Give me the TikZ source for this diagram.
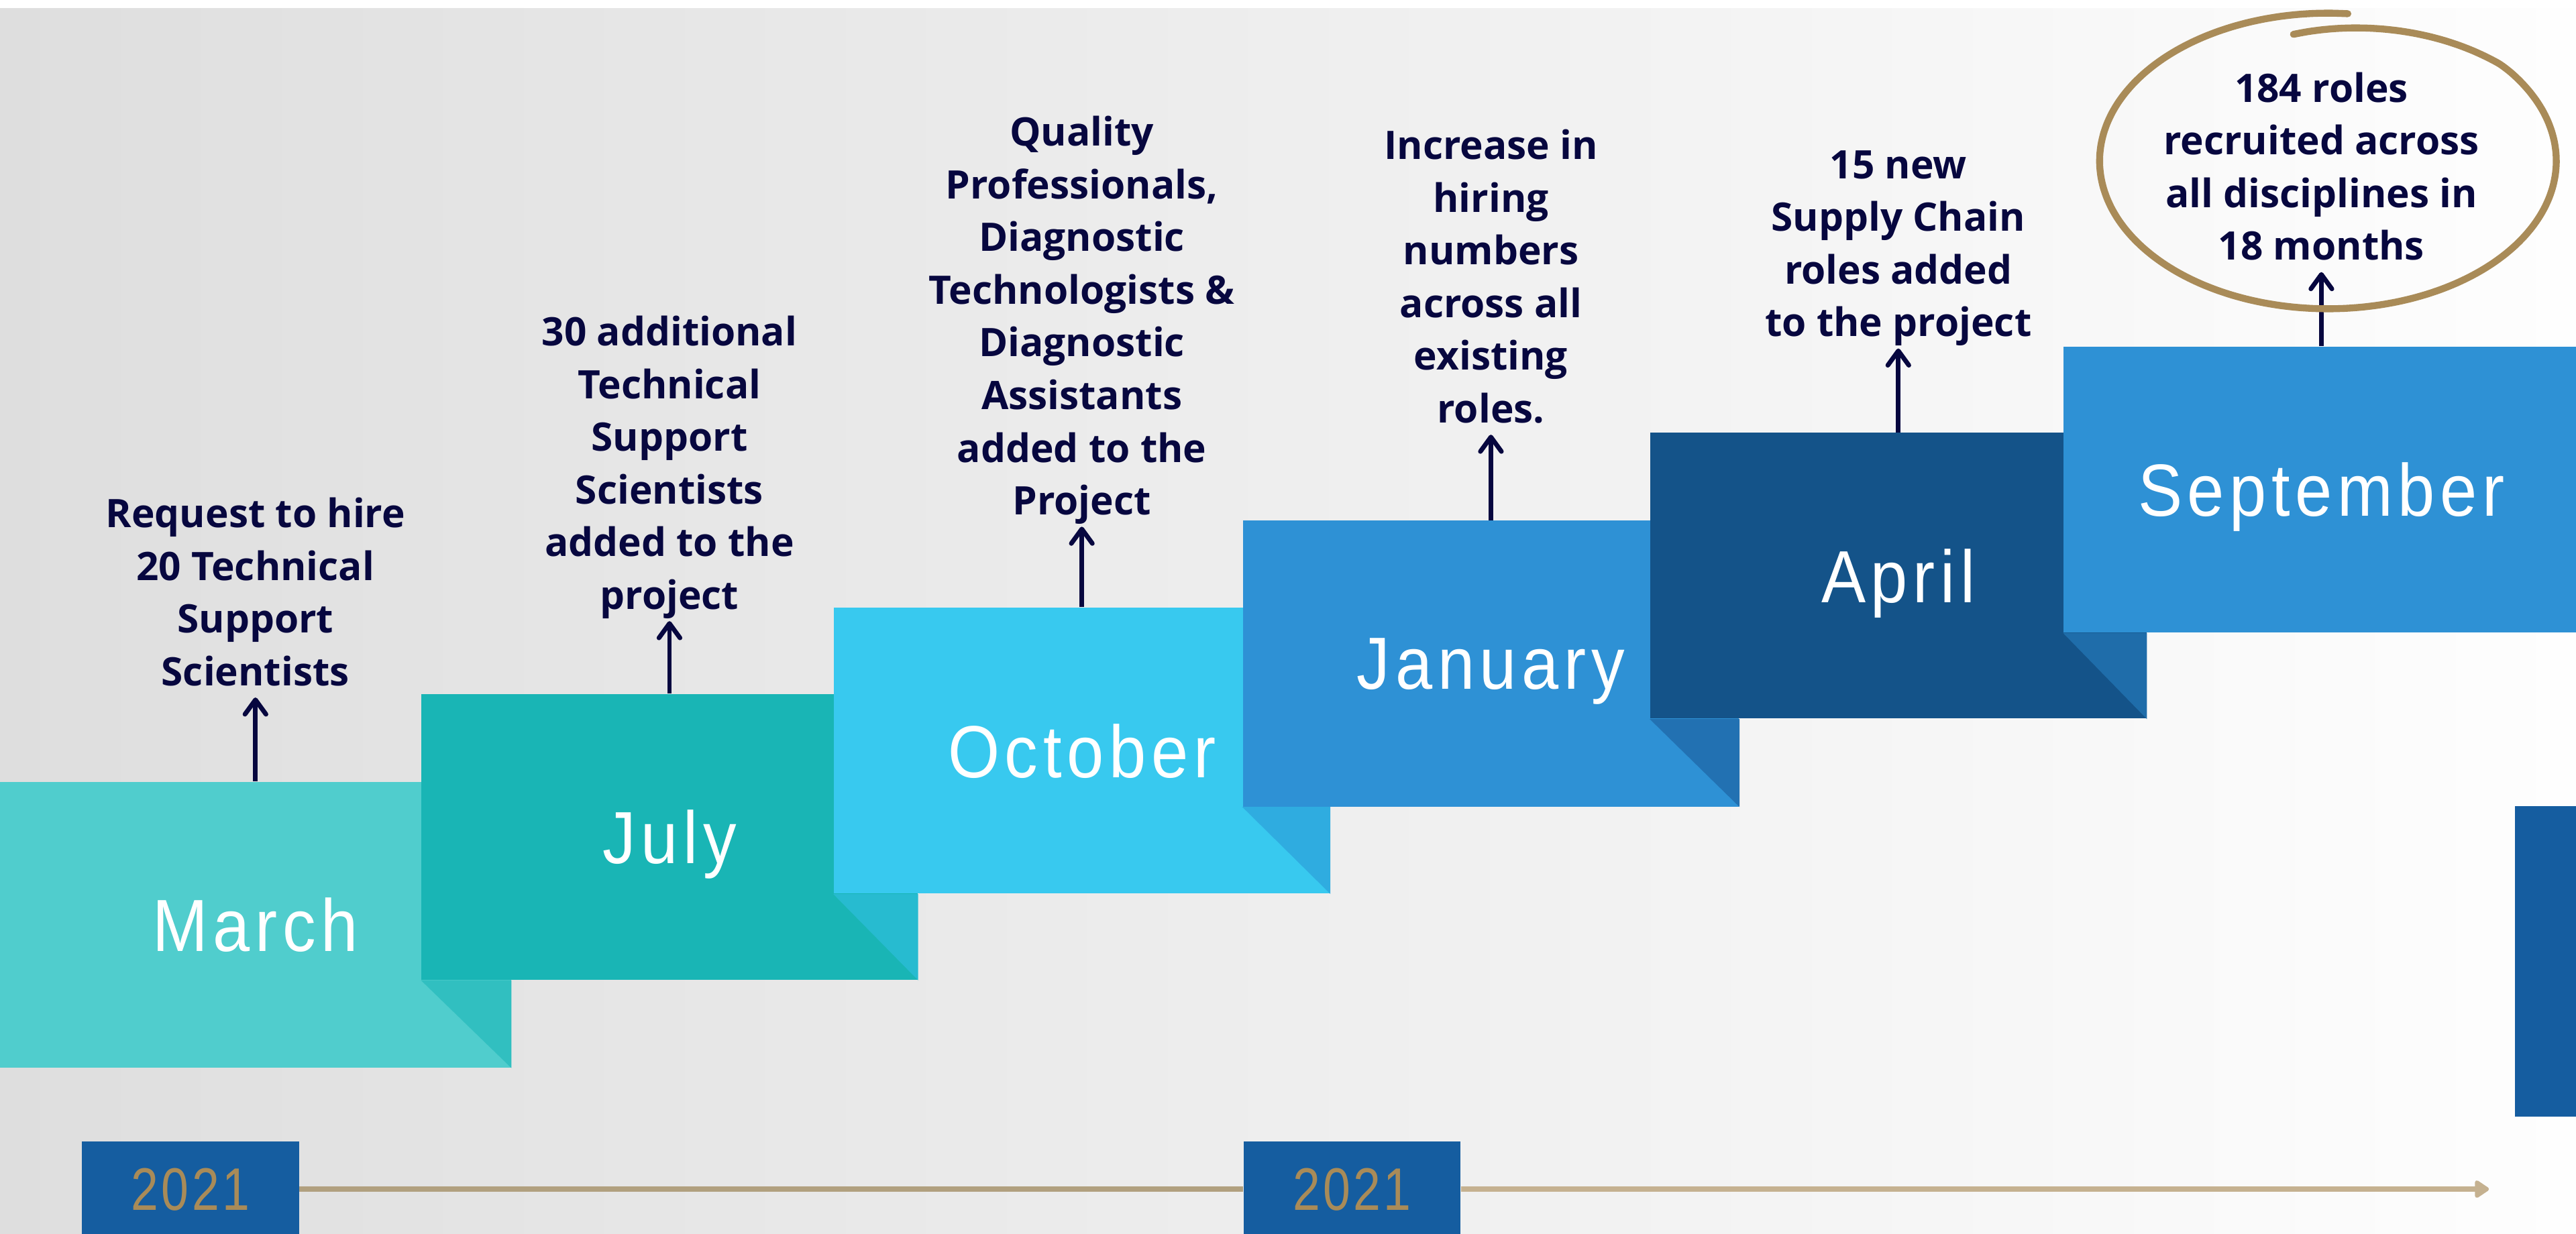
\documentclass[tikz,border=0pt]{standalone}
\usepackage{fontspec}
\usetikzlibrary{positioning,arrows.meta}
\newfontfamily\notefont{Open Sans}
\newfontfamily\monthfont{Liberation Sans}[FakeStretch=0.9,LetterSpace=7]
\newfontfamily\yearfont{Liberation Sans}[FakeStretch=0.82,LetterSpace=5]
\definecolor{navy}{HTML}{07073F}
\definecolor{marchc}{HTML}{50CDCD}
\definecolor{marchf}{HTML}{31BFC0}
\definecolor{julyc}{HTML}{19B5B5}
\definecolor{julyf}{HTML}{27BBD0}
\definecolor{octc}{HTML}{38C9EF}
\definecolor{octf}{HTML}{2FACE0}
\definecolor{janc}{HTML}{2E91D5}
\definecolor{janf}{HTML}{2271B2}
\definecolor{aprc}{HTML}{145389}
\definecolor{aprf}{HTML}{1F6DAA}
\definecolor{sepc}{HTML}{2E91D5}
\definecolor{yearblue}{HTML}{155DA0}
\definecolor{gold}{HTML}{A98B58}
\definecolor{linel}{HTML}{B1A07F}
\definecolor{liner}{HTML}{C5B190}
\definecolor{bgl}{HTML}{DEDEDE}
\definecolor{bgr}{HTML}{FEFEFE}

\begin{document}
\begin{tikzpicture}[x=0.025cm, y=-0.025cm,
  month/.style={fill=#1, text=white, inner sep=0pt, minimum width=7.55cm,
                minimum height=4.35cm, text depth=0pt,
                font=\monthfont\fontsize{32}{38}\selectfont},
  note/.style={inner sep=0pt, align=center, text depth=0pt, text=navy,
               font=\notefont\bfseries\fontsize{17}{22.8}\selectfont},
  uparrow/.style={draw=navy, line width=2pt, shorten >=1.75mm,
                  -{Straight Barb[round, length=2.2mm, width=3.2mm]}},
  yearbox/.style={fill=yearblue, text=gold, inner sep=0pt, minimum width=3.3cm,
                  minimum height=1.45cm, text depth=0pt,
                  font=\yearfont\fontsize{26}{30}\selectfont},
  timeline/.style={line width=2.2pt},
  declare function={rr(\t)=1-0.13*max(0,(\t-40)/60);}]

\useasboundingbox (0,0) rectangle (1568,751);
\fill[white] (0,0) rectangle (1568,751);
\shade[left color=bgl, right color=bgr] (0,5) rectangle (1568,751);
\fill[yearblue] (1531,491) rectangle (1570,680);

% the steps
\node[month=marchc, minimum width=7.775cm] (mar) at (155.5,563) {March};
\node[month=julyc] (jul) at (407.5,509.5) {July};
\node[month=octc] (oct) at (658.5,457) {October};
\node[month=janc] (jan) at (907.5,404) {January};
\node[month=aprc] (apr) at (1155.5,350.5) {April};
\node[month=sepc, minimum width=7.85cm] (sep) at (1413,298) {September};

\fill[marchf] (jul.south west) -- (mar.east |- jul.south) -- (mar.south east) -- cycle;
\fill[julyf] (oct.south west) -- (jul.east |- oct.south) -- (jul.south east) -- cycle;
\fill[octf] (jan.south west) -- (oct.east |- jan.south) -- (oct.south east) -- cycle;
\fill[janf] (apr.south west) -- (jan.east |- apr.south) -- (jan.south east) -- cycle;
\fill[aprf] (sep.south west) -- (apr.east |- sep.south) -- (apr.south east) -- cycle;

% what happened
\node[note, above=1.45cm of mar] (marnote) {Request to hire\\20 Technical\\Support\\Scientists};
\node[note, above=1.275cm of jul] (julnote) {30 additional\\Technical\\Support\\Scientists\\added to the\\project};
\node[note, above=1.4cm of oct] (octnote) {Quality\\Professionals,\\Diagnostic\\Technologists \&\\Diagnostic\\Assistants\\added to the\\Project};
\node[note, above=1.475cm of jan] (jannote) {Increase in\\hiring\\numbers\\across all\\existing\\roles.};
\node[note, above=1.45cm of apr] (aprnote) {15 new\\Supply Chain\\roles added\\to the project};
\node[note, above=1.3cm of sep] (sepnote) {184 roles\\recruited across\\all disciplines in\\18 months};

\draw[uparrow] (mar.north) -- (marnote.south);
\draw[uparrow] (jul.north) -- (julnote.south);
\draw[uparrow] (oct.north) -- (octnote.south);
\draw[uparrow] (jan.north) -- (jannote.south);
\draw[uparrow] (apr.north) -- (aprnote.south);
\draw[uparrow] (sep.north) -- (sepnote.south);

\draw[gold, line width=3pt, line cap=round]
  plot[smooth, domain=100:-275, samples=90] ({1417+139*rr(\x)*cos(\x)}, {98-90*rr(\x)*sin(\x)});

% years
\node[yearbox] (yr1) at (116,724) {2021};
\node[yearbox] (yr2) at (823,724) {2021};
\coordinate (tlend) at (1515,724);
\draw[timeline, draw=linel] (yr1) -- (yr2);
\draw[timeline, draw=liner, -{Triangle[round, length=2.4mm, width=3mm]}] (yr2) -- (tlend);

\end{tikzpicture}
\end{document}
